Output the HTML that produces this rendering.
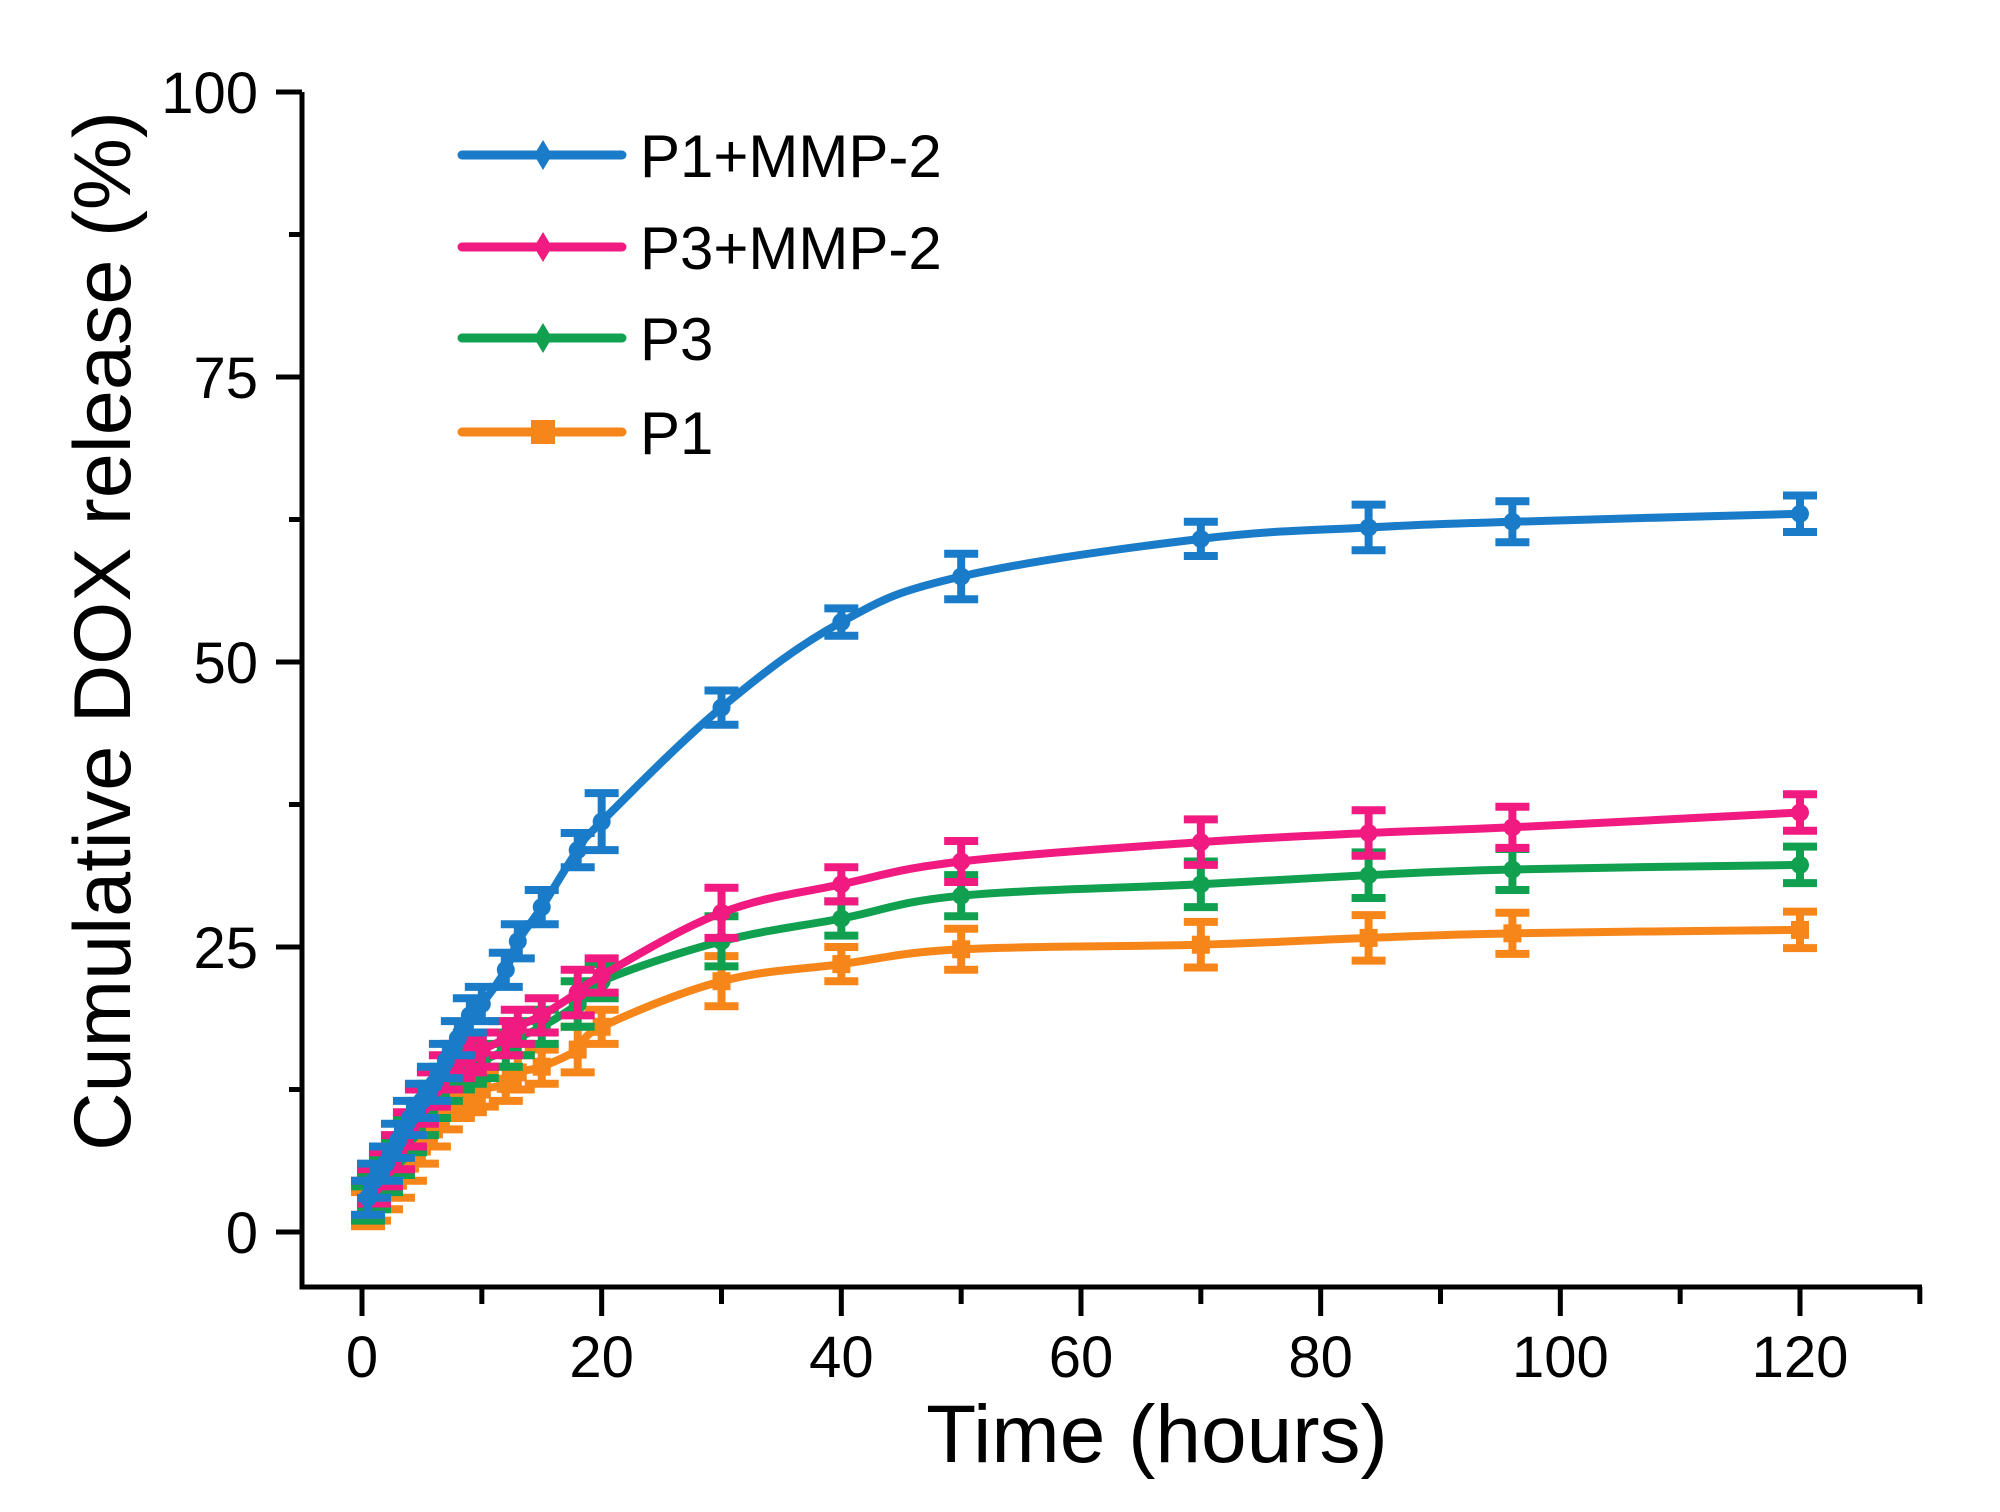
<!DOCTYPE html>
<html><head><meta charset="utf-8"><style>
html,body{margin:0;padding:0;background:#fff;}
svg{display:block;font-family:"Liberation Sans",Arial,sans-serif;}
</style></head><body>
<svg id="chart" width="2000" height="1512" viewBox="0 0 2000 1512">
<g id="axes"></g>
<g id="plot"></g>
<g id="legend"></g>
<text x="1157" y="1462" font-size="82" text-anchor="middle">Time (hours)</text>
<text transform="translate(130,631) rotate(-90)" font-size="81" text-anchor="middle">Cumulative DOX release (%)</text>
</svg>
<script>
const times = [0.5,1,2,3,4,5,6,7,8,9,10,12,13,15,18,20,30,40,50,70,84,96,120];
const seriesNames = ["P1+MMP-2","P3+MMP-2","P3","P1"];
const p1mmp = [3,4.5,6,8,10,11.5,13,15,17,19,20,23,25.5,28.5,33.5,36,46,53.5,57.5,60.8,61.8,62.3,63];
const p3mmp = [3,4,5.5,7,9,11,12.5,14,15,15.5,16,17,18,19,21,22.5,28,30.5,32.5,34.2,35,35.5,36.8];
const p3 = [2.5,3.5,5,6.5,8.5,10,11.5,13,14,14.5,15,16,17,18,20,22,25.5,27.5,29.5,30.5,31.3,31.8,32.2];
const p1 = [2,2.5,3.5,4.5,6,7.5,9,10.5,11.5,12,12.5,13,14,14.5,16,18,22,23.5,24.8,25.2,25.8,26.2,26.5];
const errBlue = [1.5,1.5,1.5,1.5,1.5,1.5,1.5,1.5,1.5,1.5,1.5,1.5,1.5,1.5,1.5,2.5,1.5,1.2,2,1.5,2,1.8,1.6];
const errOther = [1.5,1.5,1.5,1.5,1.5,1.5,1.5,1.5,1.5,1.5,1.5,1.5,1.5,1.5,2,1.5,2.2,1.5,1.8,2,2,1.8,1.6];
const xTicks = [0,20,40,60,80,100,120];
const yTicks = [0,25,50,75,100];

const NS="http://www.w3.org/2000/svg";
const X = v => 362 + v*(1800-362)/120;
const Y = v => 1232 - v*(1232-92)/100;
function mk(parent,tag,attrs){const e=document.createElementNS(NS,tag);for(const k in attrs)e.setAttribute(k,attrs[k]);parent.appendChild(e);return e;}
const axes=document.getElementById('axes');
let e;
e=mk(axes,'path',{d:`M302,${Y(100)} V1287 H1922`,fill:'none',stroke:'#000','stroke-width':5});


for(let v=0;v<=100;v+=12.5){const maj=v%25===0;
 e=mk(axes,'line',{x1:302,x2:maj?276:289,y1:Y(v),y2:Y(v),stroke:'#000','stroke-width':5});
 
 }
yTicks.forEach(v=>{e=mk(axes,'text',{x:258,y:Y(v)+21,'font-size':58,'text-anchor':'end'});e.textContent=v;
 
 });
for(let v=0;v<=130;v+=10){const maj=v%20===0;
 e=mk(axes,'line',{x1:X(v),x2:X(v),y1:1287,y2:maj?1316:1304,stroke:'#000','stroke-width':5});
 
 }
xTicks.forEach(v=>{e=mk(axes,'text',{x:X(v),y:1377,'font-size':58,'text-anchor':'middle'});e.textContent=v;
 
 });

const colors=["#1a7cc8","#f01a80","#10a050","#f7861a"];
const data=[p1mmp,p3mmp,p3,p1];
const errs=[errBlue,errOther,errOther,errOther];
const plot=document.getElementById('plot');
function smooth(pts){let d=`M${pts[0][0]},${pts[0][1]}`;
 for(let i=0;i<pts.length-1;i++){const p0=pts[Math.max(0,i-1)],p1_=pts[i],p2=pts[i+1],p3_=pts[Math.min(pts.length-1,i+2)];
  const t=0.18;const c1=[p1_[0]+(p2[0]-p0[0])*t,p1_[1]+(p2[1]-p0[1])*t];const c2=[p2[0]-(p3_[0]-p1_[0])*t,p2[1]-(p3_[1]-p1_[1])*t];
  d+=` C${c1[0]},${c1[1]} ${c2[0]},${c2[1]} ${p2[0]},${p2[1]}`;}return d;}
[3,2,1,0].forEach(s=>{
 const g=mk(plot,'g',{});
 
 
 const pts=times.map((t,i)=>[X(t),Y(data[s][i])]);
 e=mk(g,'path',{d:smooth(pts),fill:'none',stroke:colors[s],'stroke-width':8});
 
 
 times.forEach((t,i)=>{const x=X(t),v=data[s][i],er=errs[s][i];
  e=mk(g,'path',{d:`M${x},${Y(v+er)}V${Y(v-er)}M${x-17},${Y(v+er)}H${x+17}M${x-17},${Y(v-er)}H${x+17}`,stroke:colors[s],'stroke-width':8,fill:'none'});
  
  
  e=mk(g,s===3?'rect':'circle',s===3?{x:x-9,y:Y(v)-9,width:18,height:18,fill:colors[s]}:{cx:x,cy:Y(v),r:9,fill:colors[s]});
  
  });
});
const leg=document.getElementById('legend');
const ly=[155,247,338,432];
seriesNames.forEach((n,i)=>{
 const g=mk(leg,'g',{});
 
 
 mk(g,'line',{x1:462,x2:622,y1:ly[i],y2:ly[i],stroke:colors[i],'stroke-width':9,'stroke-linecap':'round'});
 if(i===3)mk(g,'rect',{x:531,y:ly[i]-12,width:24,height:24,fill:colors[i]});
 else mk(g,'path',{d:`M543,${ly[i]-15}L552,${ly[i]}L543,${ly[i]+15}L534,${ly[i]}Z`,fill:colors[i]});
 const t=mk(g,'text',{x:640,y:ly[i]+22,'font-size':60});t.textContent=n;
});
</script>
</body></html>
